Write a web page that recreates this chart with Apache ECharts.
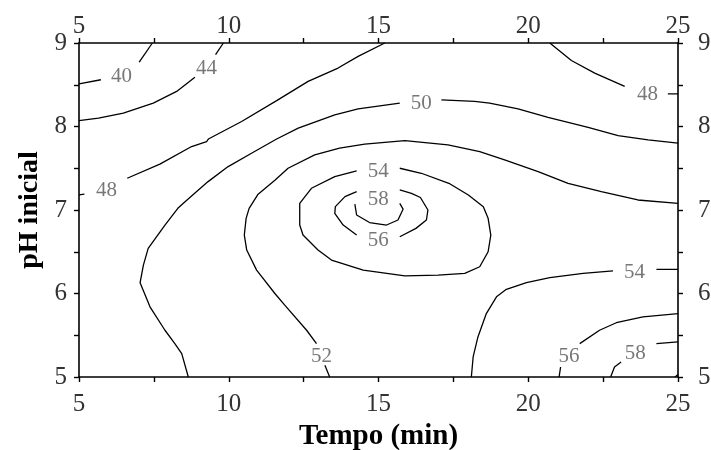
<!DOCTYPE html>
<html>
<head>
<meta charset="utf-8">
<script src="https://cdn.jsdelivr.net/npm/echarts@6/dist/echarts.min.js"></script>
<style>
  html, body { margin: 0; padding: 0; background: #fff; }
  #chart { width: 711px; height: 450px; }
</style>
</head>
<body>
<div id="chart"></div>
<script>
// Contour lines of the response surface: Tempo (min) on x, pH inicial on y.
// Each level holds one or more open pieces of [tempo, pH] points (gaps leave room for labels).
const contour40 = [
  [[5.00, 8.51], [5.73, 8.56]],
  [[7.01, 8.77], [7.45, 9.00]]
];
const contour44 = [
  [[5.00, 8.07], [5.65, 8.10], [6.48, 8.16], [7.48, 8.28], [8.26, 8.42], [8.87, 8.59]],
  [[9.56, 8.86], [9.82, 9.00]]
];
const contour48 = [
  [[5.00, 7.18], [5.18, 7.19]],
  [[6.61, 7.38], [7.70, 7.55], [8.76, 7.76], [9.26, 7.82], [9.32, 7.85], [10.43, 8.06],
   [11.60, 8.31], [12.65, 8.54], [13.65, 8.70], [14.32, 8.84], [15.21, 9.00]],
  [[20.72, 9.00], [21.44, 8.79], [22.22, 8.64], [23.22, 8.48]],
  [[24.66, 8.39], [25.00, 8.39]]
];
const contour50 = [
  [[8.65, 5.00], [8.43, 5.28], [8.20, 5.40], [7.87, 5.56], [7.37, 5.84], [7.04, 6.13],
   [7.15, 6.34], [7.31, 6.54], [7.87, 6.82], [8.30, 7.02], [8.54, 7.10], [9.31, 7.34],
   [9.98, 7.52], [10.76, 7.68], [11.60, 7.85], [12.32, 7.98], [13.54, 8.14], [14.32, 8.21],
   [15.71, 8.28]],
  [[17.10, 8.32], [18.21, 8.30], [18.71, 8.28], [19.66, 8.21], [20.66, 8.11], [22.00, 7.99],
   [23.00, 7.89], [24.00, 7.84], [25.00, 7.80]]
];
const contour52 = [
  [[13.37, 5.00], [13.21, 5.14]],
  [[12.93, 5.40], [12.60, 5.56], [11.87, 5.86], [11.54, 6.00], [10.93, 6.28], [10.60, 6.52],
   [10.52, 6.70], [10.58, 6.90], [10.68, 7.02], [10.98, 7.19], [11.55, 7.36], [11.98, 7.50],
   [12.87, 7.66], [13.70, 7.74], [14.54, 7.79], [15.88, 7.83], [17.32, 7.78], [18.38, 7.70],
   [19.21, 7.60], [20.33, 7.46], [21.33, 7.32], [22.44, 7.22], [23.66, 7.12], [25.00, 7.08]]
];
const contour54 = [
  [[14.27, 7.47], [13.54, 7.40], [12.76, 7.26], [12.37, 7.08], [12.37, 6.82], [12.48, 6.70],
   [12.98, 6.52], [13.43, 6.40], [14.49, 6.28], [15.88, 6.21], [16.99, 6.22], [17.88, 6.24],
   [18.38, 6.32], [18.66, 6.50], [18.75, 6.70], [18.66, 6.90], [18.50, 7.04], [18.00, 7.18],
   [17.35, 7.32], [16.43, 7.44], [15.71, 7.50]],
  [[18.10, 5.00], [18.16, 5.24], [18.32, 5.48], [18.60, 5.76], [18.94, 5.96], [19.27, 6.05],
   [19.94, 6.13], [20.72, 6.19], [21.83, 6.24], [22.83, 6.27]],
  [[24.28, 6.29], [25.00, 6.29]]
];
const contour56 = [
  [[14.27, 7.22], [13.88, 7.16], [13.56, 7.04], [13.54, 6.96], [13.82, 6.82], [14.27, 6.70]],
  [[15.71, 6.68], [16.25, 6.78], [16.60, 6.88], [16.65, 7.00], [16.40, 7.15], [16.10, 7.20],
   [15.71, 7.24]],
  [[21.03, 5.00], [21.08, 5.12]],
  [[21.72, 5.40], [22.38, 5.56], [22.94, 5.65], [23.83, 5.72], [25.00, 5.76]]
];
const contour58 = [
  [[14.21, 7.07], [14.27, 6.94], [14.70, 6.85], [15.27, 6.82], [15.65, 6.88], [15.82, 7.01],
   [15.71, 7.08]],
  [[22.75, 5.00], [22.88, 5.12], [23.10, 5.18]],
  [[24.28, 5.40], [25.00, 5.42]]
];
const contour60 = [
  [[24.90, 5.00], [25.00, 5.03]]
];

// Level labels written on the lines: [tempo, pH, level]
const contourLabels = [
  [6.42, 8.60, 40], [9.26, 8.69, 44], [5.92, 7.23, 48], [23.98, 8.38, 48],
  [16.43, 8.28, 50], [13.10, 5.24, 52], [14.99, 7.46, 54], [23.55, 6.25, 54],
  [14.99, 6.63, 56], [21.36, 5.25, 56], [14.99, 7.12, 58], [23.57, 5.28, 58]
];

const xTitle = 'Tempo (min)';
const yTitle = 'pH inicial';

const allContours = [contour40, contour44, contour48, contour50, contour52,
                     contour54, contour56, contour58, contour60];

const serif = '"Liberation Serif", "DejaVu Serif", serif';
const ink = '#000';

const series = [];
allContours.forEach(pieces => {
  pieces.forEach(pts => {
    series.push({
      type: 'line',
      data: pts,
      showSymbol: false,
      symbol: 'none',
      smooth: false,
      silent: true,
      lineStyle: { color: ink, width: 1.3 },
      xAxisIndex: 0,
      yAxisIndex: 0
    });
  });
});
series.push({
  type: 'scatter',
  data: contourLabels,
  symbol: 'circle',
  symbolSize: 1,
  itemStyle: { color: 'transparent' },
  silent: true,
  label: {
    show: true,
    position: 'inside',
    formatter: p => String(p.value[2]),
    fontFamily: serif,
    fontSize: 21,
    color: '#555'
  },
  xAxisIndex: 0,
  yAxisIndex: 0
});

function makeAxis(position, min, max, interval, margin, extra) {
  return Object.assign({
    type: 'value',
    position: position,
    min: min,
    max: max,
    interval: interval,
    axisLine: { show: true, onZero: false, lineStyle: { color: ink, width: 1.6 } },
    axisTick: { show: true, inside: false, length: 5, lineStyle: { color: ink, width: 1.4 } },
    minorTick: { show: true, splitNumber: 2, length: 5, lineStyle: { color: ink, width: 1.4 } },
    splitLine: { show: false },
    minorSplitLine: { show: false },
    axisLabel: {
      show: true,
      margin: margin,
      fontFamily: serif,
      fontSize: 25,
      color: '#333'
    }
  }, extra || {});
}

const chart = echarts.init(document.getElementById('chart'), null, { renderer: 'canvas' });
chart.setOption({
  animation: false,
  backgroundColor: '#fff',
  grid: {
    left: 79, right: 33, top: 43, bottom: 73,
    containLabel: false,
    outerBoundsMode: 'none'
  },
  xAxis: [
    makeAxis('bottom', 5, 25, 5, 15, {
      name: xTitle,
      nameLocation: 'middle',
      nameGap: 45,
      nameTextStyle: { fontFamily: serif, fontSize: 29, fontWeight: 'bold', color: ink }
    }),
    makeAxis('top', 5, 25, 5, 4)
  ],
  yAxis: [
    makeAxis('left', 5, 9, 1, 12, {
      name: yTitle,
      nameLocation: 'middle',
      nameGap: 28,
      nameRotate: 90,
      nameTextStyle: { fontFamily: serif, fontSize: 28, fontWeight: 'bold', color: ink }
    }),
    makeAxis('right', 5, 9, 1, 20)
  ],
  series: series
});
</script>
</body>
</html>
